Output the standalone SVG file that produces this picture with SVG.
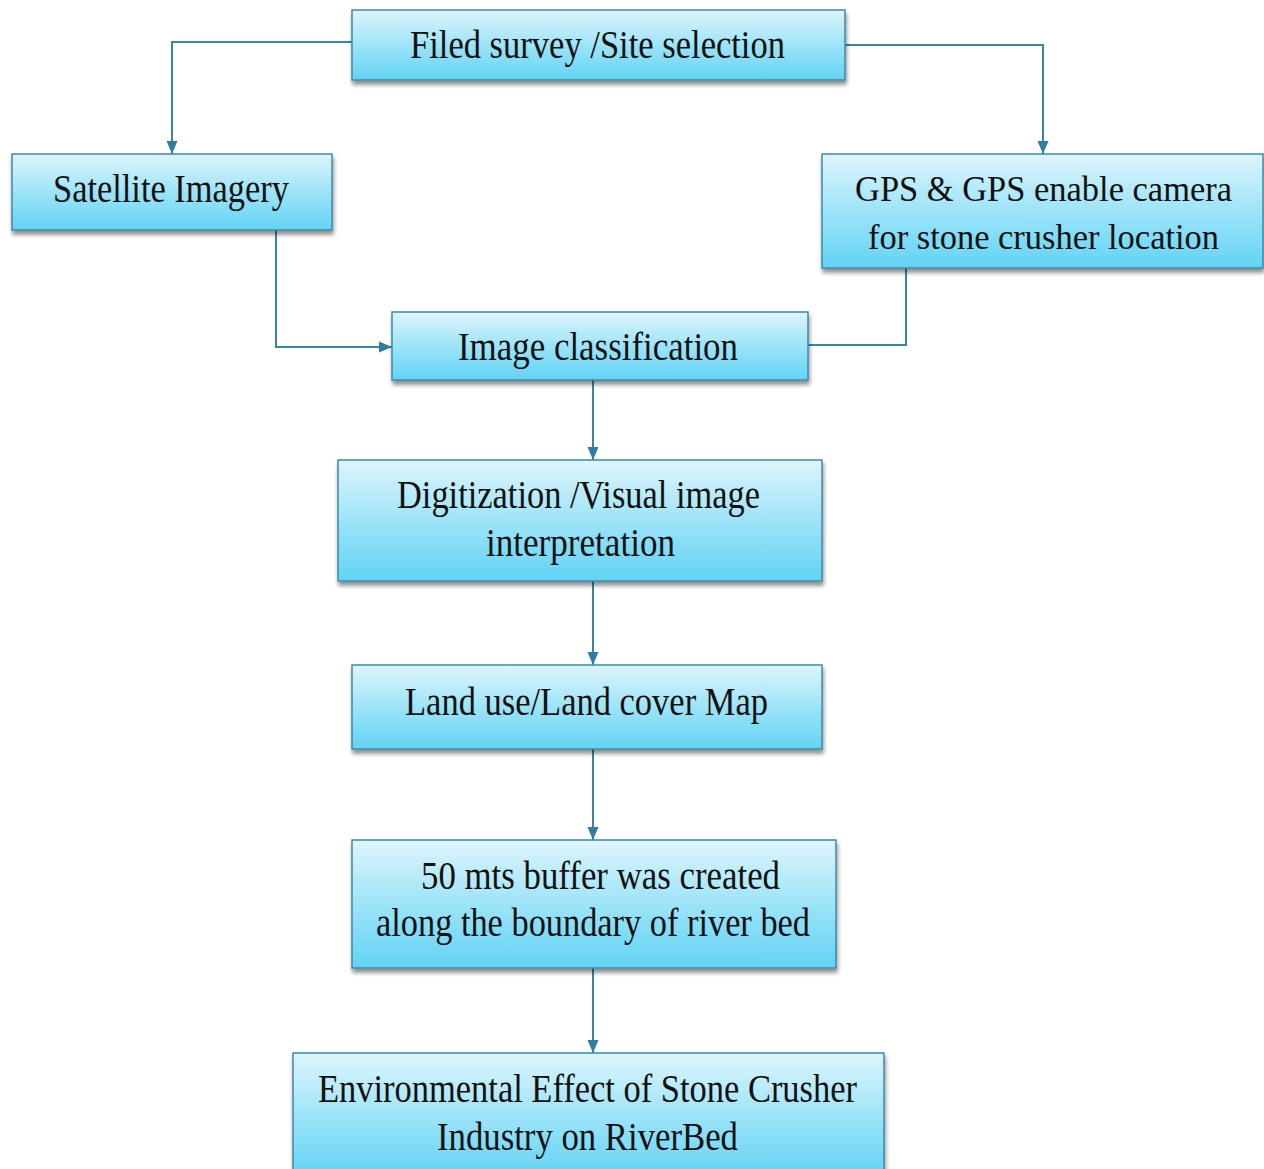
<svg xmlns="http://www.w3.org/2000/svg" width="1264" height="1169" viewBox="0 0 1264 1169">
<defs>
<linearGradient id="g" x1="0" y1="0" x2="0" y2="1">
<stop offset="0" stop-color="#def5fc"/>
<stop offset="0.55" stop-color="#97e2f8"/>
<stop offset="1" stop-color="#62d3f4"/>
</linearGradient>
<filter id="sh" x="-5%" y="-10%" width="110%" height="130%">
<feGaussianBlur in="SourceAlpha" stdDeviation="2"/>
<feOffset dx="1" dy="4"/>
<feComponentTransfer><feFuncA type="linear" slope="0.45"/></feComponentTransfer>
<feMerge><feMergeNode/><feMergeNode in="SourceGraphic"/></feMerge>
</filter>
<marker id="ah" markerWidth="14" markerHeight="14" refX="13" refY="7" orient="auto" markerUnits="userSpaceOnUse" viewBox="0 0 14 14">
<path d="M0,1.5 L0,12.5 L13,7 Z" fill="#2f7da0"/>
</marker>
</defs>
<style>
.box{fill:url(#g);stroke:#3d8aa8;stroke-width:1.5;filter:url(#sh)}
.t{font-family:"Liberation Serif","Times New Roman",serif;font-size:41px;fill:#111;text-anchor:middle}
.s{font-size:35px}
.c{fill:none;stroke:#3a84a6;stroke-width:2}
</style>
<rect width="1264" height="1169" fill="#ffffff"/>
<g id="connectors">
<path class="c" d="M352,42 H172 V154" marker-end="url(#ah)"/>
<path class="c" d="M845,45 H1043 V154" marker-end="url(#ah)"/>
<path class="c" d="M276,230 V347 H392" marker-end="url(#ah)"/>
<path class="c" d="M906,268 V345 H808"/>
<path class="c" d="M593,380 V460" marker-end="url(#ah)"/>
<path class="c" d="M593,581 V665" marker-end="url(#ah)"/>
<path class="c" d="M593,749 V840" marker-end="url(#ah)"/>
<path class="c" d="M593,968 V1053" marker-end="url(#ah)"/>
</g>
<g id="n1"><rect class="box" x="352" y="10" width="493" height="70"/>
<text class="t" x="597.5" y="58" textLength="375" lengthAdjust="spacingAndGlyphs">Filed survey /Site selection</text></g>
<g id="n2"><rect class="box" x="12" y="154" width="320" height="76"/>
<text class="t" x="171" y="202" textLength="236" lengthAdjust="spacingAndGlyphs">Satellite Imagery</text></g>
<g id="n3"><rect class="box" x="822" y="154" width="441" height="114"/>
<text class="t s" x="1043.5" y="201" textLength="377" lengthAdjust="spacingAndGlyphs">GPS &amp; GPS enable camera</text>
<text class="t s" x="1043.5" y="249" textLength="351" lengthAdjust="spacingAndGlyphs">for stone crusher location</text></g>
<g id="n4"><rect class="box" x="392" y="312" width="416" height="68"/>
<text class="t" x="598" y="360" textLength="280" lengthAdjust="spacingAndGlyphs">Image classification</text></g>
<g id="n5"><rect class="box" x="338" y="460" width="484" height="121"/>
<text class="t" x="578.5" y="508" textLength="363" lengthAdjust="spacingAndGlyphs">Digitization /Visual image</text>
<text class="t" x="580.5" y="556" textLength="189" lengthAdjust="spacingAndGlyphs">interpretation</text></g>
<g id="n6"><rect class="box" x="352" y="665" width="470" height="84"/>
<text class="t" x="586.5" y="715" textLength="363" lengthAdjust="spacingAndGlyphs">Land use/Land cover Map</text></g>
<g id="n7"><rect class="box" x="352" y="840" width="484" height="128"/>
<text class="t" x="600.5" y="889" textLength="359" lengthAdjust="spacingAndGlyphs">50 mts buffer was created</text>
<text class="t" x="593" y="936" textLength="434" lengthAdjust="spacingAndGlyphs">along the boundary of river bed</text></g>
<g id="n8"><rect class="box" x="293" y="1053" width="591" height="125"/>
<text class="t" x="587.5" y="1102" textLength="539" lengthAdjust="spacingAndGlyphs">Environmental Effect of Stone Crusher</text>
<text class="t" x="587.5" y="1150" textLength="301" lengthAdjust="spacingAndGlyphs">Industry on RiverBed</text></g>
</svg>
